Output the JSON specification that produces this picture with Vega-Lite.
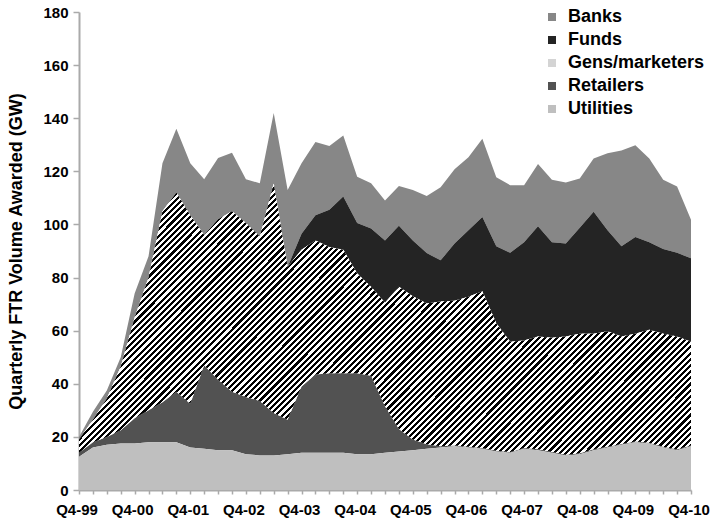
{
  "$schema": "https://vega.github.io/schema/vega-lite/v6.json",
  "width": 612,
  "height": 478,
  "autosize": {"type": "none"},
  "padding": {"left": 79, "top": 12, "right": 19, "bottom": 31},
  "background": "white",
  "config": {
    "view": {"stroke": null},
    "font": "Liberation Sans",
    "axis": {
      "grid": false,
      "labelFont": "Liberation Sans",
      "labelFontSize": 15,
      "labelFontWeight": "bold",
      "labelColor": "#000000",
      "titleFont": "Liberation Sans",
      "titleFontSize": 18,
      "titleFontWeight": "bold",
      "titleColor": "#000000",
      "domainColor": "#aaaaaa",
      "domainWidth": 2,
      "tickColor": "#aaaaaa",
      "tickWidth": 1.5
    }
  },
  "data": {
    "values": [
      {"quarter": "Q4-99", "Utilities": 12.5, "Retailers": 1.5, "Gens/marketers": 5, "Funds": 0, "Banks": 1},
      {"quarter": "Q1-00", "Utilities": 16, "Retailers": 2, "Gens/marketers": 8.5, "Funds": 0, "Banks": 3},
      {"quarter": "Q2-00", "Utilities": 17, "Retailers": 3, "Gens/marketers": 14.5, "Funds": 0, "Banks": 3},
      {"quarter": "Q3-00", "Utilities": 17.5, "Retailers": 5, "Gens/marketers": 24, "Funds": 0, "Banks": 3.5},
      {"quarter": "Q4-00", "Utilities": 17.5, "Retailers": 9.5, "Gens/marketers": 38, "Funds": 0, "Banks": 9},
      {"quarter": "Q1-01", "Utilities": 18, "Retailers": 12, "Gens/marketers": 50, "Funds": 0, "Banks": 8},
      {"quarter": "Q2-01", "Utilities": 18, "Retailers": 15, "Gens/marketers": 72, "Funds": 0, "Banks": 18},
      {"quarter": "Q3-01", "Utilities": 18, "Retailers": 19, "Gens/marketers": 75, "Funds": 0, "Banks": 24},
      {"quarter": "Q4-01", "Utilities": 16, "Retailers": 16.5, "Gens/marketers": 71, "Funds": 0, "Banks": 19.5},
      {"quarter": "Q1-02", "Utilities": 15.5, "Retailers": 31.5, "Gens/marketers": 49, "Funds": 0, "Banks": 21},
      {"quarter": "Q2-02", "Utilities": 15, "Retailers": 26.5, "Gens/marketers": 60.5, "Funds": 0, "Banks": 23},
      {"quarter": "Q3-02", "Utilities": 15, "Retailers": 22, "Gens/marketers": 68, "Funds": 0, "Banks": 22},
      {"quarter": "Q4-02", "Utilities": 13.5, "Retailers": 21.5, "Gens/marketers": 65.5, "Funds": 0, "Banks": 16.5},
      {"quarter": "Q1-03", "Utilities": 13, "Retailers": 20.5, "Gens/marketers": 62, "Funds": 0, "Banks": 20},
      {"quarter": "Q2-03", "Utilities": 13, "Retailers": 16, "Gens/marketers": 86.5, "Funds": 0, "Banks": 26.5},
      {"quarter": "Q3-03", "Utilities": 13.5, "Retailers": 13, "Gens/marketers": 57.5, "Funds": 0, "Banks": 29},
      {"quarter": "Q4-03", "Utilities": 14, "Retailers": 25, "Gens/marketers": 51.5, "Funds": 6, "Banks": 26.5},
      {"quarter": "Q1-04", "Utilities": 14, "Retailers": 29.5, "Gens/marketers": 50.5, "Funds": 9.5, "Banks": 27.5},
      {"quarter": "Q2-04", "Utilities": 14, "Retailers": 30, "Gens/marketers": 47.5, "Funds": 14, "Banks": 24},
      {"quarter": "Q3-04", "Utilities": 14, "Retailers": 30, "Gens/marketers": 46.5, "Funds": 20, "Banks": 23},
      {"quarter": "Q4-04", "Utilities": 13.5, "Retailers": 30.5, "Gens/marketers": 37.5, "Funds": 19, "Banks": 17.5},
      {"quarter": "Q1-05", "Utilities": 13.5, "Retailers": 29.5, "Gens/marketers": 33.5, "Funds": 22, "Banks": 17},
      {"quarter": "Q2-05", "Utilities": 14, "Retailers": 17.5, "Gens/marketers": 39, "Funds": 23.5, "Banks": 15},
      {"quarter": "Q3-05", "Utilities": 14.5, "Retailers": 8.5, "Gens/marketers": 53.5, "Funds": 23, "Banks": 15},
      {"quarter": "Q4-05", "Utilities": 15, "Retailers": 4, "Gens/marketers": 54, "Funds": 21, "Banks": 19},
      {"quarter": "Q1-06", "Utilities": 15.5, "Retailers": 1.7, "Gens/marketers": 53, "Funds": 19, "Banks": 21.5},
      {"quarter": "Q2-06", "Utilities": 16, "Retailers": 0.5, "Gens/marketers": 54.5, "Funds": 15.5, "Banks": 27.5},
      {"quarter": "Q3-06", "Utilities": 16.5, "Retailers": 0.3, "Gens/marketers": 54.5, "Funds": 21.5, "Banks": 28},
      {"quarter": "Q4-06", "Utilities": 16, "Retailers": 0.3, "Gens/marketers": 56.5, "Funds": 25, "Banks": 27.5},
      {"quarter": "Q1-07", "Utilities": 15.5, "Retailers": 0.3, "Gens/marketers": 59, "Funds": 28, "Banks": 29.5},
      {"quarter": "Q2-07", "Utilities": 14.5, "Retailers": 0.3, "Gens/marketers": 48, "Funds": 29, "Banks": 26},
      {"quarter": "Q3-07", "Utilities": 14, "Retailers": 0.3, "Gens/marketers": 41.5, "Funds": 33.5, "Banks": 25.5},
      {"quarter": "Q4-07", "Utilities": 15.5, "Retailers": 0.3, "Gens/marketers": 40.5, "Funds": 37, "Banks": 21.5},
      {"quarter": "Q1-08", "Utilities": 15, "Retailers": 0.3, "Gens/marketers": 42.5, "Funds": 41.5, "Banks": 23.5},
      {"quarter": "Q2-08", "Utilities": 14, "Retailers": 0.3, "Gens/marketers": 43, "Funds": 36, "Banks": 23.5},
      {"quarter": "Q3-08", "Utilities": 13, "Retailers": 0.3, "Gens/marketers": 44.5, "Funds": 35, "Banks": 23},
      {"quarter": "Q4-08", "Utilities": 13.5, "Retailers": 0.3, "Gens/marketers": 45, "Funds": 40, "Banks": 18.5},
      {"quarter": "Q1-09", "Utilities": 15, "Retailers": 0.3, "Gens/marketers": 43.5, "Funds": 46, "Banks": 20},
      {"quarter": "Q2-09", "Utilities": 16, "Retailers": 0.3, "Gens/marketers": 43.5, "Funds": 38, "Banks": 29},
      {"quarter": "Q3-09", "Utilities": 17, "Retailers": 0.3, "Gens/marketers": 40.5, "Funds": 34, "Banks": 36},
      {"quarter": "Q4-09", "Utilities": 18, "Retailers": 0.3, "Gens/marketers": 40.5, "Funds": 36.5, "Banks": 34.5},
      {"quarter": "Q1-10", "Utilities": 17.5, "Retailers": 0.3, "Gens/marketers": 42.5, "Funds": 33, "Banks": 31.5},
      {"quarter": "Q2-10", "Utilities": 16, "Retailers": 0.3, "Gens/marketers": 42.5, "Funds": 32, "Banks": 26},
      {"quarter": "Q3-10", "Utilities": 15, "Retailers": 0.3, "Gens/marketers": 42.5, "Funds": 31.5, "Banks": 25},
      {"quarter": "Q4-10", "Utilities": 16.5, "Retailers": 0.3, "Gens/marketers": 39, "Funds": 31.5, "Banks": 14.5}
    ]
  },
  "transform": [
    {"fold": ["Banks", "Funds", "Gens/marketers", "Retailers", "Utilities"], "as": ["series", "gw"]},
    {"stack": "gw", "groupby": ["quarter"], "sort": [{"field": "series", "order": "descending"}], "as": ["gw0", "gw1"]}
  ],
  "encoding": {
    "x": {
      "field": "quarter",
      "type": "ordinal",
      "sort": null,
      "scale": {"type": "point", "padding": 0},
      "axis": {
        "title": null,
        "labelAngle": 0,
        "labelOverlap": false,
        "labelExpr": "indexof(datum.label, 'Q4') === 0 ? datum.label : ''",
        "labelOffset": -2.5,
        "tickSize": 4,
        "labelPadding": 8
      }
    },
    "y": {
      "field": "gw1",
      "type": "quantitative",
      "stack": null,
      "scale": {"domain": [0, 180], "nice": false, "zero": true},
      "axis": {
        "title": "Quarterly FTR Volume Awarded (GW)",
        "values": [0, 20, 40, 60, 80, 100, 120, 140, 160, 180],
        "tickSize": 6,
        "labelPadding": 5,
        "titlePadding": 17
      }
    },
    "y2": {"field": "gw0"},
    "order": {"value": null}
  },
  "layer": [
    {
      "mark": {"type": "area", "interpolate": "linear"},
      "encoding": {
        "color": {
          "field": "series",
          "type": "nominal",
          "scale": {
            "domain": ["Banks", "Funds", "Gens/marketers", "Retailers", "Utilities"],
            "range": ["#878787", "#242424", "#d4d4d4", "#525252", "#bfbfbf"]
          },
          "legend": {
            "title": null,
            "orient": "none",
            "legendX": 464,
            "legendY": -4,
            "symbolType": "square",
            "symbolSize": 64,
            "symbolStrokeWidth": 0,
            "labelFont": "Liberation Sans",
            "labelFontSize": 18,
            "labelFontWeight": "bold",
            "labelColor": "#000000",
            "labelOffset": 7,
            "rowPadding": 5
          }
        }
      }
    },
    {
      "transform": [{"filter": "datum.series === 'Gens/marketers'"}],
      "mark": {
        "type": "area",
        "interpolate": "linear",
        "fill": {
          "gradient": "linear", "x1": 0, "y1": 0, "x2": 1.206, "y2": 0.534,
          "stops": [
            {"offset":0.120,"color":"#fff"},{"offset":0.120,"color":"#000"},{"offset":0.1235,"color":"#000"},{"offset":0.1235,"color":"#fff"},
            {"offset":0.127,"color":"#fff"},{"offset":0.127,"color":"#000"},{"offset":0.1305,"color":"#000"},{"offset":0.1305,"color":"#fff"},
            {"offset":0.134,"color":"#fff"},{"offset":0.134,"color":"#000"},{"offset":0.1375,"color":"#000"},{"offset":0.1375,"color":"#fff"},
            {"offset":0.141,"color":"#fff"},{"offset":0.141,"color":"#000"},{"offset":0.1445,"color":"#000"},{"offset":0.1445,"color":"#fff"},
            {"offset":0.148,"color":"#fff"},{"offset":0.148,"color":"#000"},{"offset":0.1515,"color":"#000"},{"offset":0.1515,"color":"#fff"},
            {"offset":0.155,"color":"#fff"},{"offset":0.155,"color":"#000"},{"offset":0.1585,"color":"#000"},{"offset":0.1585,"color":"#fff"},
            {"offset":0.162,"color":"#fff"},{"offset":0.162,"color":"#000"},{"offset":0.1655,"color":"#000"},{"offset":0.1655,"color":"#fff"},
            {"offset":0.169,"color":"#fff"},{"offset":0.169,"color":"#000"},{"offset":0.1725,"color":"#000"},{"offset":0.1725,"color":"#fff"},
            {"offset":0.176,"color":"#fff"},{"offset":0.176,"color":"#000"},{"offset":0.1795,"color":"#000"},{"offset":0.1795,"color":"#fff"},
            {"offset":0.183,"color":"#fff"},{"offset":0.183,"color":"#000"},{"offset":0.1865,"color":"#000"},{"offset":0.1865,"color":"#fff"},
            {"offset":0.190,"color":"#fff"},{"offset":0.190,"color":"#000"},{"offset":0.1935,"color":"#000"},{"offset":0.1935,"color":"#fff"},
            {"offset":0.197,"color":"#fff"},{"offset":0.197,"color":"#000"},{"offset":0.2005,"color":"#000"},{"offset":0.2005,"color":"#fff"},
            {"offset":0.204,"color":"#fff"},{"offset":0.204,"color":"#000"},{"offset":0.2075,"color":"#000"},{"offset":0.2075,"color":"#fff"},
            {"offset":0.211,"color":"#fff"},{"offset":0.211,"color":"#000"},{"offset":0.2145,"color":"#000"},{"offset":0.2145,"color":"#fff"},
            {"offset":0.218,"color":"#fff"},{"offset":0.218,"color":"#000"},{"offset":0.2215,"color":"#000"},{"offset":0.2215,"color":"#fff"},
            {"offset":0.225,"color":"#fff"},{"offset":0.225,"color":"#000"},{"offset":0.2285,"color":"#000"},{"offset":0.2285,"color":"#fff"},
            {"offset":0.232,"color":"#fff"},{"offset":0.232,"color":"#000"},{"offset":0.2355,"color":"#000"},{"offset":0.2355,"color":"#fff"},
            {"offset":0.239,"color":"#fff"},{"offset":0.239,"color":"#000"},{"offset":0.2425,"color":"#000"},{"offset":0.2425,"color":"#fff"},
            {"offset":0.246,"color":"#fff"},{"offset":0.246,"color":"#000"},{"offset":0.2495,"color":"#000"},{"offset":0.2495,"color":"#fff"},
            {"offset":0.253,"color":"#fff"},{"offset":0.253,"color":"#000"},{"offset":0.2565,"color":"#000"},{"offset":0.2565,"color":"#fff"},
            {"offset":0.260,"color":"#fff"},{"offset":0.260,"color":"#000"},{"offset":0.2635,"color":"#000"},{"offset":0.2635,"color":"#fff"},
            {"offset":0.267,"color":"#fff"},{"offset":0.267,"color":"#000"},{"offset":0.2705,"color":"#000"},{"offset":0.2705,"color":"#fff"},
            {"offset":0.274,"color":"#fff"},{"offset":0.274,"color":"#000"},{"offset":0.2775,"color":"#000"},{"offset":0.2775,"color":"#fff"},
            {"offset":0.281,"color":"#fff"},{"offset":0.281,"color":"#000"},{"offset":0.2845,"color":"#000"},{"offset":0.2845,"color":"#fff"},
            {"offset":0.288,"color":"#fff"},{"offset":0.288,"color":"#000"},{"offset":0.2915,"color":"#000"},{"offset":0.2915,"color":"#fff"},
            {"offset":0.295,"color":"#fff"},{"offset":0.295,"color":"#000"},{"offset":0.2985,"color":"#000"},{"offset":0.2985,"color":"#fff"},
            {"offset":0.302,"color":"#fff"},{"offset":0.302,"color":"#000"},{"offset":0.3055,"color":"#000"},{"offset":0.3055,"color":"#fff"},
            {"offset":0.309,"color":"#fff"},{"offset":0.309,"color":"#000"},{"offset":0.3125,"color":"#000"},{"offset":0.3125,"color":"#fff"},
            {"offset":0.316,"color":"#fff"},{"offset":0.316,"color":"#000"},{"offset":0.3195,"color":"#000"},{"offset":0.3195,"color":"#fff"},
            {"offset":0.323,"color":"#fff"},{"offset":0.323,"color":"#000"},{"offset":0.3265,"color":"#000"},{"offset":0.3265,"color":"#fff"},
            {"offset":0.330,"color":"#fff"},{"offset":0.330,"color":"#000"},{"offset":0.3335,"color":"#000"},{"offset":0.3335,"color":"#fff"},
            {"offset":0.337,"color":"#fff"},{"offset":0.337,"color":"#000"},{"offset":0.3405,"color":"#000"},{"offset":0.3405,"color":"#fff"},
            {"offset":0.344,"color":"#fff"},{"offset":0.344,"color":"#000"},{"offset":0.3475,"color":"#000"},{"offset":0.3475,"color":"#fff"},
            {"offset":0.351,"color":"#fff"},{"offset":0.351,"color":"#000"},{"offset":0.3545,"color":"#000"},{"offset":0.3545,"color":"#fff"},
            {"offset":0.358,"color":"#fff"},{"offset":0.358,"color":"#000"},{"offset":0.3615,"color":"#000"},{"offset":0.3615,"color":"#fff"},
            {"offset":0.365,"color":"#fff"},{"offset":0.365,"color":"#000"},{"offset":0.3685,"color":"#000"},{"offset":0.3685,"color":"#fff"},
            {"offset":0.372,"color":"#fff"},{"offset":0.372,"color":"#000"},{"offset":0.3755,"color":"#000"},{"offset":0.3755,"color":"#fff"},
            {"offset":0.379,"color":"#fff"},{"offset":0.379,"color":"#000"},{"offset":0.3825,"color":"#000"},{"offset":0.3825,"color":"#fff"},
            {"offset":0.386,"color":"#fff"},{"offset":0.386,"color":"#000"},{"offset":0.3895,"color":"#000"},{"offset":0.3895,"color":"#fff"},
            {"offset":0.393,"color":"#fff"},{"offset":0.393,"color":"#000"},{"offset":0.3965,"color":"#000"},{"offset":0.3965,"color":"#fff"},
            {"offset":0.400,"color":"#fff"},{"offset":0.400,"color":"#000"},{"offset":0.4035,"color":"#000"},{"offset":0.4035,"color":"#fff"},
            {"offset":0.407,"color":"#fff"},{"offset":0.407,"color":"#000"},{"offset":0.4105,"color":"#000"},{"offset":0.4105,"color":"#fff"},
            {"offset":0.414,"color":"#fff"},{"offset":0.414,"color":"#000"},{"offset":0.4175,"color":"#000"},{"offset":0.4175,"color":"#fff"},
            {"offset":0.421,"color":"#fff"},{"offset":0.421,"color":"#000"},{"offset":0.4245,"color":"#000"},{"offset":0.4245,"color":"#fff"},
            {"offset":0.428,"color":"#fff"},{"offset":0.428,"color":"#000"},{"offset":0.4315,"color":"#000"},{"offset":0.4315,"color":"#fff"},
            {"offset":0.435,"color":"#fff"},{"offset":0.435,"color":"#000"},{"offset":0.4385,"color":"#000"},{"offset":0.4385,"color":"#fff"},
            {"offset":0.442,"color":"#fff"},{"offset":0.442,"color":"#000"},{"offset":0.4455,"color":"#000"},{"offset":0.4455,"color":"#fff"},
            {"offset":0.449,"color":"#fff"},{"offset":0.449,"color":"#000"},{"offset":0.4525,"color":"#000"},{"offset":0.4525,"color":"#fff"},
            {"offset":0.456,"color":"#fff"},{"offset":0.456,"color":"#000"},{"offset":0.4595,"color":"#000"},{"offset":0.4595,"color":"#fff"},
            {"offset":0.463,"color":"#fff"},{"offset":0.463,"color":"#000"},{"offset":0.4665,"color":"#000"},{"offset":0.4665,"color":"#fff"},
            {"offset":0.470,"color":"#fff"},{"offset":0.470,"color":"#000"},{"offset":0.4735,"color":"#000"},{"offset":0.4735,"color":"#fff"},
            {"offset":0.477,"color":"#fff"},{"offset":0.477,"color":"#000"},{"offset":0.4805,"color":"#000"},{"offset":0.4805,"color":"#fff"},
            {"offset":0.484,"color":"#fff"},{"offset":0.484,"color":"#000"},{"offset":0.4875,"color":"#000"},{"offset":0.4875,"color":"#fff"},
            {"offset":0.491,"color":"#fff"},{"offset":0.491,"color":"#000"},{"offset":0.4945,"color":"#000"},{"offset":0.4945,"color":"#fff"},
            {"offset":0.498,"color":"#fff"},{"offset":0.498,"color":"#000"},{"offset":0.5015,"color":"#000"},{"offset":0.5015,"color":"#fff"},
            {"offset":0.505,"color":"#fff"},{"offset":0.505,"color":"#000"},{"offset":0.5085,"color":"#000"},{"offset":0.5085,"color":"#fff"},
            {"offset":0.512,"color":"#fff"},{"offset":0.512,"color":"#000"},{"offset":0.5155,"color":"#000"},{"offset":0.5155,"color":"#fff"},
            {"offset":0.519,"color":"#fff"},{"offset":0.519,"color":"#000"},{"offset":0.5225,"color":"#000"},{"offset":0.5225,"color":"#fff"},
            {"offset":0.526,"color":"#fff"},{"offset":0.526,"color":"#000"},{"offset":0.5295,"color":"#000"},{"offset":0.5295,"color":"#fff"},
            {"offset":0.533,"color":"#fff"},{"offset":0.533,"color":"#000"},{"offset":0.5365,"color":"#000"},{"offset":0.5365,"color":"#fff"},
            {"offset":0.540,"color":"#fff"},{"offset":0.540,"color":"#000"},{"offset":0.5435,"color":"#000"},{"offset":0.5435,"color":"#fff"},
            {"offset":0.547,"color":"#fff"},{"offset":0.547,"color":"#000"},{"offset":0.5505,"color":"#000"},{"offset":0.5505,"color":"#fff"},
            {"offset":0.554,"color":"#fff"},{"offset":0.554,"color":"#000"},{"offset":0.5575,"color":"#000"},{"offset":0.5575,"color":"#fff"},
            {"offset":0.561,"color":"#fff"},{"offset":0.561,"color":"#000"},{"offset":0.5645,"color":"#000"},{"offset":0.5645,"color":"#fff"},
            {"offset":0.568,"color":"#fff"},{"offset":0.568,"color":"#000"},{"offset":0.5715,"color":"#000"},{"offset":0.5715,"color":"#fff"},
            {"offset":0.575,"color":"#fff"},{"offset":0.575,"color":"#000"},{"offset":0.5785,"color":"#000"},{"offset":0.5785,"color":"#fff"},
            {"offset":0.582,"color":"#fff"},{"offset":0.582,"color":"#000"},{"offset":0.5855,"color":"#000"},{"offset":0.5855,"color":"#fff"},
            {"offset":0.589,"color":"#fff"},{"offset":0.589,"color":"#000"},{"offset":0.5925,"color":"#000"},{"offset":0.5925,"color":"#fff"},
            {"offset":0.596,"color":"#fff"},{"offset":0.596,"color":"#000"},{"offset":0.5995,"color":"#000"},{"offset":0.5995,"color":"#fff"},
            {"offset":0.603,"color":"#fff"},{"offset":0.603,"color":"#000"},{"offset":0.6065,"color":"#000"},{"offset":0.6065,"color":"#fff"},
            {"offset":0.610,"color":"#fff"},{"offset":0.610,"color":"#000"},{"offset":0.6135,"color":"#000"},{"offset":0.6135,"color":"#fff"},
            {"offset":0.617,"color":"#fff"},{"offset":0.617,"color":"#000"},{"offset":0.6205,"color":"#000"},{"offset":0.6205,"color":"#fff"},
            {"offset":0.624,"color":"#fff"},{"offset":0.624,"color":"#000"},{"offset":0.6275,"color":"#000"},{"offset":0.6275,"color":"#fff"},
            {"offset":0.631,"color":"#fff"},{"offset":0.631,"color":"#000"},{"offset":0.6345,"color":"#000"},{"offset":0.6345,"color":"#fff"},
            {"offset":0.638,"color":"#fff"},{"offset":0.638,"color":"#000"},{"offset":0.6415,"color":"#000"},{"offset":0.6415,"color":"#fff"},
            {"offset":0.645,"color":"#fff"},{"offset":0.645,"color":"#000"},{"offset":0.6485,"color":"#000"},{"offset":0.6485,"color":"#fff"},
            {"offset":0.652,"color":"#fff"},{"offset":0.652,"color":"#000"},{"offset":0.6555,"color":"#000"},{"offset":0.6555,"color":"#fff"},
            {"offset":0.659,"color":"#fff"},{"offset":0.659,"color":"#000"},{"offset":0.6625,"color":"#000"},{"offset":0.6625,"color":"#fff"},
            {"offset":0.666,"color":"#fff"},{"offset":0.666,"color":"#000"},{"offset":0.6695,"color":"#000"},{"offset":0.6695,"color":"#fff"},
            {"offset":0.673,"color":"#fff"},{"offset":0.673,"color":"#000"},{"offset":0.6765,"color":"#000"},{"offset":0.6765,"color":"#fff"},
            {"offset":0.680,"color":"#fff"},{"offset":0.680,"color":"#000"},{"offset":0.6835,"color":"#000"},{"offset":0.6835,"color":"#fff"},
            {"offset":0.687,"color":"#fff"},{"offset":0.687,"color":"#000"},{"offset":0.6905,"color":"#000"},{"offset":0.6905,"color":"#fff"},
            {"offset":0.694,"color":"#fff"},{"offset":0.694,"color":"#000"},{"offset":0.6975,"color":"#000"},{"offset":0.6975,"color":"#fff"},
            {"offset":0.701,"color":"#fff"},{"offset":0.701,"color":"#000"},{"offset":0.7045,"color":"#000"},{"offset":0.7045,"color":"#fff"},
            {"offset":0.708,"color":"#fff"},{"offset":0.708,"color":"#000"},{"offset":0.7115,"color":"#000"},{"offset":0.7115,"color":"#fff"},
            {"offset":0.715,"color":"#fff"},{"offset":0.715,"color":"#000"},{"offset":0.7185,"color":"#000"},{"offset":0.7185,"color":"#fff"},
            {"offset":0.722,"color":"#fff"},{"offset":0.722,"color":"#000"},{"offset":0.7255,"color":"#000"},{"offset":0.7255,"color":"#fff"},
            {"offset":0.729,"color":"#fff"},{"offset":0.729,"color":"#000"},{"offset":0.7325,"color":"#000"},{"offset":0.7325,"color":"#fff"},
            {"offset":0.736,"color":"#fff"},{"offset":0.736,"color":"#000"},{"offset":0.7395,"color":"#000"},{"offset":0.7395,"color":"#fff"},
            {"offset":0.743,"color":"#fff"},{"offset":0.743,"color":"#000"},{"offset":0.7465,"color":"#000"},{"offset":0.7465,"color":"#fff"},
            {"offset":0.750,"color":"#fff"},{"offset":0.750,"color":"#000"},{"offset":0.7535,"color":"#000"},{"offset":0.7535,"color":"#fff"},
            {"offset":0.757,"color":"#fff"},{"offset":0.757,"color":"#000"},{"offset":0.7605,"color":"#000"},{"offset":0.7605,"color":"#fff"},
            {"offset":0.764,"color":"#fff"},{"offset":0.764,"color":"#000"},{"offset":0.7675,"color":"#000"},{"offset":0.7675,"color":"#fff"},
            {"offset":0.771,"color":"#fff"},{"offset":0.771,"color":"#000"},{"offset":0.7745,"color":"#000"},{"offset":0.7745,"color":"#fff"},
            {"offset":0.778,"color":"#fff"},{"offset":0.778,"color":"#000"},{"offset":0.7815,"color":"#000"},{"offset":0.7815,"color":"#fff"},
            {"offset":0.785,"color":"#fff"},{"offset":0.785,"color":"#000"},{"offset":0.7885,"color":"#000"},{"offset":0.7885,"color":"#fff"},
            {"offset":0.792,"color":"#fff"},{"offset":0.792,"color":"#000"},{"offset":0.7955,"color":"#000"},{"offset":0.7955,"color":"#fff"},
            {"offset":0.799,"color":"#fff"},{"offset":0.799,"color":"#000"},{"offset":0.8025,"color":"#000"},{"offset":0.8025,"color":"#fff"},
            {"offset":0.806,"color":"#fff"},{"offset":0.806,"color":"#000"},{"offset":0.8095,"color":"#000"},{"offset":0.8095,"color":"#fff"},
            {"offset":0.813,"color":"#fff"},{"offset":0.813,"color":"#000"},{"offset":0.8165,"color":"#000"},{"offset":0.8165,"color":"#fff"},
            {"offset":0.820,"color":"#fff"},{"offset":0.820,"color":"#000"},{"offset":0.8235,"color":"#000"},{"offset":0.8235,"color":"#fff"},
            {"offset":0.827,"color":"#fff"},{"offset":0.827,"color":"#000"},{"offset":0.8305,"color":"#000"},{"offset":0.8305,"color":"#fff"},
            {"offset":0.834,"color":"#fff"},{"offset":0.834,"color":"#000"},{"offset":0.8375,"color":"#000"},{"offset":0.8375,"color":"#fff"},
            {"offset":0.841,"color":"#fff"},{"offset":0.841,"color":"#000"},{"offset":0.8445,"color":"#000"},{"offset":0.8445,"color":"#fff"},
            {"offset":0.848,"color":"#fff"},{"offset":0.848,"color":"#000"},{"offset":0.8515,"color":"#000"},{"offset":0.8515,"color":"#fff"},
            {"offset":0.855,"color":"#fff"},{"offset":0.855,"color":"#000"},{"offset":0.8585,"color":"#000"},{"offset":0.8585,"color":"#fff"},
            {"offset":0.862,"color":"#fff"},{"offset":0.862,"color":"#000"},{"offset":0.8655,"color":"#000"},{"offset":0.8655,"color":"#fff"},
            {"offset":0.869,"color":"#fff"},{"offset":0.869,"color":"#000"},{"offset":0.8725,"color":"#000"},{"offset":0.8725,"color":"#fff"},
            {"offset":0.876,"color":"#fff"},{"offset":0.876,"color":"#000"},{"offset":0.8795,"color":"#000"},{"offset":0.8795,"color":"#fff"},
            {"offset":0.883,"color":"#fff"},{"offset":0.883,"color":"#000"},{"offset":0.8865,"color":"#000"},{"offset":0.8865,"color":"#fff"},
            {"offset":0.890,"color":"#fff"},{"offset":0.890,"color":"#000"},{"offset":0.8935,"color":"#000"},{"offset":0.8935,"color":"#fff"},
            {"offset":0.897,"color":"#fff"},{"offset":0.897,"color":"#000"},{"offset":0.9005,"color":"#000"},{"offset":0.9005,"color":"#fff"},
            {"offset":0.904,"color":"#fff"},{"offset":0.904,"color":"#000"},{"offset":0.9075,"color":"#000"},{"offset":0.9075,"color":"#fff"},
            {"offset":0.911,"color":"#fff"},{"offset":0.911,"color":"#000"},{"offset":0.9145,"color":"#000"},{"offset":0.9145,"color":"#fff"},
            {"offset":0.918,"color":"#fff"},{"offset":0.918,"color":"#000"},{"offset":0.9215,"color":"#000"},{"offset":0.9215,"color":"#fff"},
            {"offset":0.925,"color":"#fff"},{"offset":0.925,"color":"#000"},{"offset":0.9285,"color":"#000"},{"offset":0.9285,"color":"#fff"},
            {"offset":0.932,"color":"#fff"},{"offset":0.932,"color":"#000"},{"offset":0.9355,"color":"#000"},{"offset":0.9355,"color":"#fff"},
            {"offset":0.939,"color":"#fff"},{"offset":0.939,"color":"#000"},{"offset":0.9425,"color":"#000"},{"offset":0.9425,"color":"#fff"},
            {"offset":0.946,"color":"#fff"},{"offset":0.946,"color":"#000"},{"offset":0.9495,"color":"#000"},{"offset":0.9495,"color":"#fff"},
            {"offset":0.953,"color":"#fff"},{"offset":0.953,"color":"#000"},{"offset":0.9565,"color":"#000"},{"offset":0.9565,"color":"#fff"},
            {"offset":0.960,"color":"#fff"},{"offset":0.960,"color":"#000"},{"offset":0.9635,"color":"#000"},{"offset":0.9635,"color":"#fff"},
            {"offset":0.967,"color":"#fff"},{"offset":0.967,"color":"#000"},{"offset":0.9705,"color":"#000"},{"offset":0.9705,"color":"#fff"},
            {"offset":0.974,"color":"#fff"},{"offset":0.974,"color":"#000"},{"offset":0.9775,"color":"#000"},{"offset":0.9775,"color":"#fff"},
            {"offset":0.981,"color":"#fff"},{"offset":0.981,"color":"#000"},{"offset":0.9845,"color":"#000"},{"offset":0.9845,"color":"#fff"},
            {"offset":0.988,"color":"#fff"},{"offset":0.988,"color":"#000"},{"offset":0.9915,"color":"#000"},{"offset":0.9915,"color":"#fff"},
            {"offset":0.995,"color":"#fff"},{"offset":0.995,"color":"#000"},{"offset":0.9985,"color":"#000"},{"offset":0.9985,"color":"#fff"}
          ]
        }
      }
    }
  ]
}
